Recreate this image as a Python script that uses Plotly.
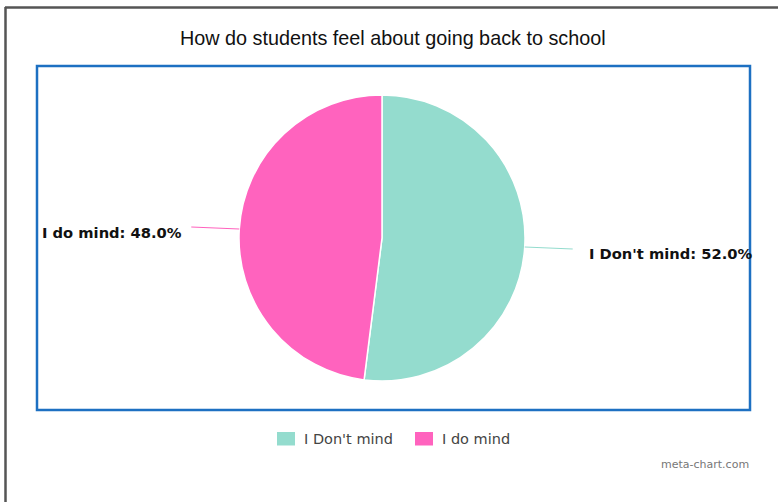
import math
import plotly.graph_objects as go

labels = ["I Don't mind", "I do mind"]
values = [52.0, 48.0]
colors = ["#94DCCE", "#FF63BE"]
title_text = "How do students feel about going back to school"
credit_text = "meta-chart.com"

W, H = 778, 502
cx, cy, r = 382, 238, 143  # pie centre / radius in pixels


def px(x):
    return x / W


def py(y):
    return 1 - y / H


fig = go.Figure()
fig.add_trace(go.Pie(
    labels=labels,
    values=values,
    marker=dict(colors=colors, line=dict(color="white", width=1.5)),
    sort=False,
    direction="clockwise",
    rotation=0,
    textinfo="none",
    hoverinfo="label+percent",
    showlegend=False,
    domain=dict(x=[px(cx - r), px(cx + r)], y=[py(cy + r), py(cy - r)]),
))

shapes = []
annotations = []
total = sum(values)
start = 0.0
for lab, val, col in zip(labels, values, colors):
    frac = val / total
    mid = (start + frac / 2) * 2 * math.pi
    start += frac
    sx, sy = math.sin(mid), -math.cos(mid)
    ex, ey = cx + r * sx, cy + r * sy
    side = 1 if sx >= 0 else -1
    lx, ly = ex + side * 48, ey + 2 * (1 if sy > 0 else -1)
    gap = 14 if side > 0 else 7
    shapes.append(dict(type="line", xref="paper", yref="paper",
                       x0=px(ex), y0=py(ey), x1=px(lx), y1=py(ly),
                       line=dict(color=col, width=1.2)))
    annotations.append(dict(
        x=px(lx + side * gap), y=py(ly + 5), xref="paper", yref="paper",
        text="<b>%s: %.1f%%</b>" % (lab, 100 * frac), showarrow=False,
        xanchor="left" if side > 0 else "right", yanchor="middle",
        font=dict(family="DejaVu Sans", size=14.7, color="#111")))

# title and credit
annotations.append(dict(x=px(393), y=py(38), xref="paper", yref="paper",
                        text=title_text, showarrow=False, xanchor="center", yanchor="middle",
                        font=dict(family="Liberation Sans", size=19.8, color="#111")))
annotations.append(dict(x=px(751), y=py(464), xref="paper", yref="paper",
                        text=credit_text, showarrow=False, xanchor="right", yanchor="middle",
                        font=dict(family="DejaVu Sans", size=11, color="#777")))

# legend (built from labels / colours)
legend_x = [277, 415]
for lab, col, lxp in zip(labels, colors, legend_x):
    shapes.append(dict(type="rect", xref="paper", yref="paper",
                       x0=px(lxp), x1=px(lxp + 18), y0=py(445.5), y1=py(432),
                       fillcolor=col, line=dict(width=0)))
    annotations.append(dict(x=px(lxp + 25), y=py(439), xref="paper", yref="paper",
                            text=lab, showarrow=False, xanchor="left", yanchor="middle",
                            font=dict(family="DejaVu Sans", size=14.5, color="#444")))

# frames
shapes.append(dict(type="rect", xref="paper", yref="paper",
                   x0=px(37), x1=px(750), y0=py(410), y1=py(66),
                   line=dict(color="#1D70C2", width=2.5)))
shapes.append(dict(type="line", xref="paper", yref="paper",
                   x0=px(5), x1=1, y0=py(7.5), y1=py(7.5),
                   line=dict(color="#555", width=2.5)))
shapes.append(dict(type="line", xref="paper", yref="paper",
                   x0=px(5.5), x1=px(5.5), y0=py(7), y1=0,
                   line=dict(color="#555", width=2.5)))

fig.update_layout(
    width=W, height=H,
    margin=dict(l=0, r=0, t=0, b=0),
    paper_bgcolor="white",
    plot_bgcolor="white",
    shapes=shapes,
    annotations=annotations,
    showlegend=False,
)

fig.write_html("out.html", config={"displayModeBar": False},
               post_script="document.body.style.margin='0px';document.body.style.padding='0px';")
